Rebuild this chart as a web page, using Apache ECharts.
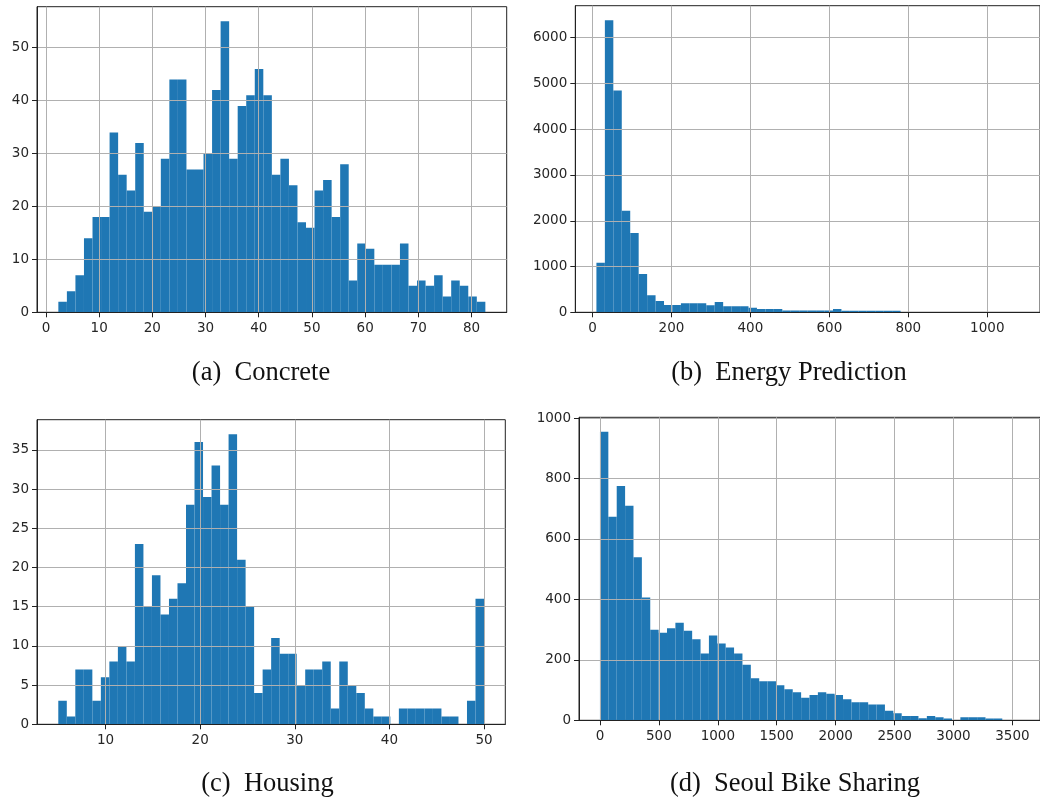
<!DOCTYPE html>
<html><head><meta charset="utf-8">
<script src="https://cdn.jsdelivr.net/npm/echarts@6/dist/echarts.min.js"></script>
<style>html,body{margin:0;padding:0;background:#fff}#c{width:1040px;height:799px}</style>
</head><body><div id="c"></div><script>
// ---- data (50-bin histograms) ----
const concreteRange = [2.33, 82.6];
const concreteCounts = [2,4,7,14,18,18,34,26,23,32,19,20,29,44,44,27,27,30,42,55,29,39,41,46,41,26,29,24,17,16,23,25,18,28,6,13,12,9,9,9,13,5,6,5,7,3,6,5,3,2];
const concreteXTicks = [0,10,20,30,40,50,60,70,80];
const concreteYTicks = [0,10,20,30,40,50];

const energyRange = [10, 1080];
const energyCounts = [1080,6380,4845,2218,1730,839,372,248,160,160,197,197,197,153,226,131,131,131,102,73,73,73,42,42,42,42,42,42,70,35,35,35,35,35,35,35,3,2,2,1,1,1,1,0,1,0,1,0,0,1];
const energyXTicks = [0,200,400,600,800,1000];
const energyYTicks = [0,1000,2000,3000,4000,5000,6000];

const housingRange = [5, 50];
const housingCounts = [3,1,7,7,3,6,8,10,8,23,15,19,14,16,18,28,36,29,33,28,37,21,15,4,7,11,9,9,5,7,7,8,2,8,5,4,2,1,1,0,2,2,2,2,2,1,1,0,3,16];
const housingXTicks = [10,20,30,40,50];
const housingYTicks = [0,5,10,15,20,25,30,35];

const bikeRange = [0, 3556];
const bikeCounts = [955,674,775,710,540,406,300,290,305,323,296,268,221,281,254,241,221,184,139,129,129,116,103,93,75,84,93,88,84,70,60,60,52,52,32,23,14,14,7,14,10,6,1,10,10,10,6,6,0,1];
const bikeXTicks = [0,500,1000,1500,2000,2500,3000,3500];
const bikeYTicks = [0,200,400,600,800,1000];

const captions = ['(a)  Concrete', '(b)  Energy Prediction', '(c)  Housing', '(d)  Seoul Bike Sharing'];

// ---- layout ----
const panels = [
  {range: concreteRange, counts: concreteCounts, xt: concreteXTicks, yt: concreteYTicks,
   rect: {left: 37, top: 6.7, width: 469.7, height: 305.6}, cap: [261, 373]},
  {range: energyRange, counts: energyCounts, xt: energyXTicks, yt: energyYTicks,
   rect: {left: 575.3, top: 5.7, width: 470.8, height: 306.6}, cap: [789, 373]},
  {range: housingRange, counts: housingCounts, xt: housingXTicks, yt: housingYTicks,
   rect: {left: 37, top: 419.7, width: 468.3, height: 304.6}, cap: [267.5, 784]},
  {range: bikeRange, counts: bikeCounts, xt: bikeXTicks, yt: bikeYTicks,
   rect: {left: 579, top: 417.3, width: 464.1, height: 303}, cap: [795, 784]}
];

const LABEL = {fontFamily: 'DejaVu Sans', fontSize: 13.5, color: '#262626'};
const SPINE = '#222';

function renderHist(params, api) {
  const p0 = api.coord([api.value(0), api.value(2)]);
  const p1 = api.coord([api.value(1), 0]);
  return {type: 'rect', shape: {x: p0[0], y: p0[1], width: p1[0] - p0[0], height: p1[1] - p0[1]},
          style: {fill: '#1f77b4'}};
}

const grid = [], xAxis = [], yAxis = [], series = [], graphic = [];
panels.forEach((p, i) => {
  const lo = p.range[0], hi = p.range[1], n = p.counts.length, w = (hi - lo) / n;
  const xmin = lo - 0.05 * (hi - lo), xmax = hi + 0.05 * (hi - lo);
  const ymax = 1.05 * Math.max(...p.counts);
  const xs = p.xt[1] - p.xt[0], ys = p.yt[1] - p.yt[0];
  grid.push(Object.assign({show: true, borderColor: SPINE, borderWidth: 1, backgroundColor: 'transparent'}, p.rect));
  const fmt = step => v => (Math.abs(v / step - Math.round(v / step)) < 1e-6 ? String(Math.round(v)) : '');
  xAxis.push({type: 'value', gridIndex: i, min: xmin, max: xmax, minInterval: xs, maxInterval: xs, z: 5,
    axisLine: {show: true, onZero: false, lineStyle: {color: SPINE, width: 1}},
    axisTick: {show: true, length: 5, customValues: p.xt, lineStyle: {color: SPINE, width: 1}},
    axisLabel: Object.assign({margin: 9, customValues: p.xt, formatter: fmt(xs)}, LABEL),
    splitLine: {show: true, lineStyle: {color: '#b0b0b0', width: 1}}});
  yAxis.push({type: 'value', gridIndex: i, min: 0, max: ymax, minInterval: ys, maxInterval: ys, z: 5,
    axisLine: {show: true, onZero: false, lineStyle: {color: SPINE, width: 1}},
    axisTick: {show: true, length: 5, customValues: p.yt, lineStyle: {color: SPINE, width: 1}},
    axisLabel: Object.assign({margin: 8, customValues: p.yt, formatter: fmt(ys)}, LABEL),
    splitLine: {show: true, lineStyle: {color: '#b0b0b0', width: 1}}});
  series.push({type: 'custom', xAxisIndex: i, yAxisIndex: i, z: 2, clip: true, silent: true,
    renderItem: renderHist, encode: {x: [0, 1], y: 2},
    data: p.counts.map((c, k) => [lo + k * w, lo + (k + 1) * w, c])});
  graphic.push({type: 'text', x: p.cap[0], y: p.cap[1],
    style: {text: captions[i], font: '26.5px "Liberation Serif"', fill: '#111', textAlign: 'center', textVerticalAlign: 'middle'}});
});

const chart = echarts.init(document.getElementById('c'), null, {renderer: 'canvas'});
chart.setOption({animation: false, grid, xAxis, yAxis, series, graphic});
</script></body></html>
